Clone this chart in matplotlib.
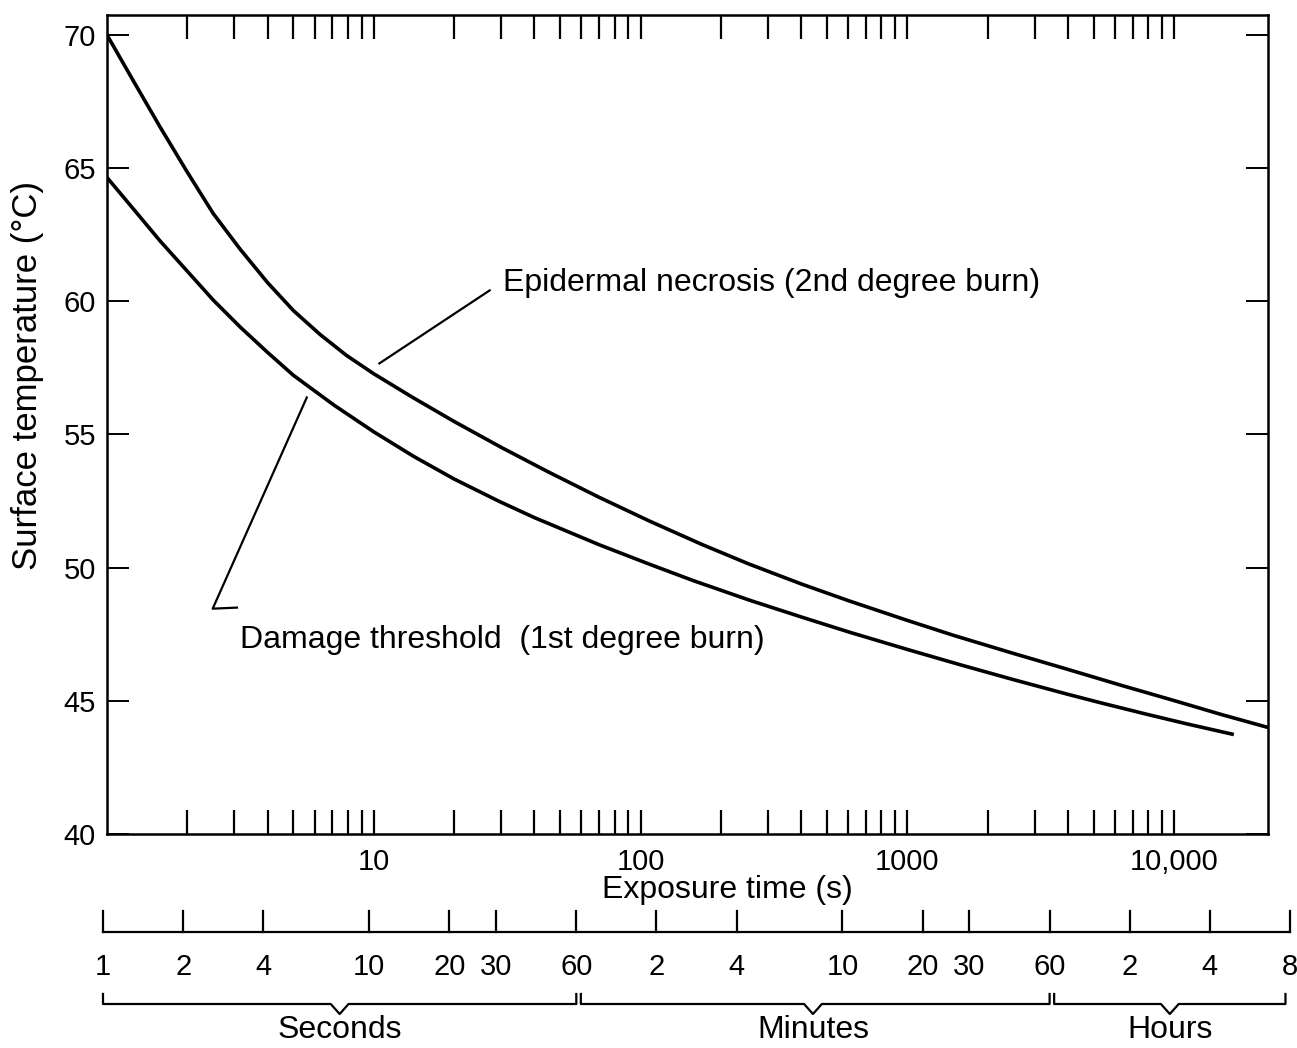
import matplotlib.pyplot as plt

plt.rcParams['font.family'] = ['Liberation Sans', 'DejaVu Sans']

# exposure time (s) vs surface temperature (deg C)
necrosis_t = [1.0, 1.26, 1.58, 2.0, 2.5, 3.16, 4.0, 5.0, 6.3, 7.9, 10, 14, 20, 30, 45, 70, 108,
              170, 256, 400, 606, 1000, 1500, 2500, 4000, 6300, 10000, 15000, 22500]
necrosis_T = [70.0, 68.25, 66.55, 64.85, 63.3, 61.95, 60.7, 59.65, 58.75, 57.97, 57.28, 56.39, 55.49,
              54.52, 53.6, 52.64, 51.75, 50.87, 50.13, 49.39, 48.75, 48.02, 47.45, 46.78, 46.18,
              45.59, 45.01, 44.49, 44.0]
threshold_t = [1.0, 1.26, 1.58, 2.0, 2.5, 3.16, 4.0, 5.0, 7.1, 10, 14.1, 20, 29.5, 40, 70, 108,
               158, 256, 400, 606, 1000, 1585, 2512, 3981, 5240, 7943, 11220, 16500]
threshold_T = [64.65, 63.45, 62.27, 61.13, 60.05, 59.03, 58.08, 57.22, 56.1, 55.1, 54.18, 53.33,
               52.49, 51.88, 50.86, 50.13, 49.51, 48.78, 48.15, 47.58, 46.93, 46.35, 45.79, 45.25,
               44.94, 44.49, 44.13, 43.75]

major_t = [10, 100, 1000, 10000]
major_labels = ['10', '100', '1000', '10,000']
minor_t = [m * 10 ** d for d in range(4) for m in range(2, 10)]
y_ticks = [40, 45, 50, 55, 60, 65, 70]

# second scale under the plot: seconds / minutes / hours
scale_t = [1, 2, 4, 10, 20, 30, 60, 120, 240, 600, 1200, 1800, 3600, 7200, 14400, 28800]
scale_labels = ['1', '2', '4', '10', '20', '30', '60', '2', '4', '10', '20', '30', '60', '2', '4', '8']
span_start = [1, 60, 3600]
span_end = [60, 3600, 28800]
span_names = ['Seconds', 'Minutes', 'Hours']

W, H = 1297, 1048
fs_tick = 21
fs = 23
fig = plt.figure(figsize=(W / 100, H / 100), dpi=100)

ax = fig.add_axes([107 / W, 1 - 834 / H, (1268 - 107) / W, (834 - 15) / H])
ax.set_xscale('log')
ax.set_xlim(1, 22500)
ax.set_ylim(40, 70.75)

ax.plot(necrosis_t, necrosis_T, color='black', lw=2.6)
ax.plot(threshold_t, threshold_T, color='black', lw=2.6)

# leader lines + labels
ax.plot([27.2, 10.5], [60.41, 57.67], color='black', lw=1.6)
ax.plot([5.61, 2.49, 3.07], [56.39, 48.46, 48.5], color='black', lw=1.6)
ax.text(30.4, 60.7, 'Epidermal necrosis (2nd degree burn)', ha='left', va='center', fontsize=fs)
ax.text(3.15, 47.3, 'Damage threshold  (1st degree burn)', ha='left', va='center', fontsize=fs)

ax.set_xticks(major_t, major_labels)
ax.set_xticks(minor_t, minor=True)
ax.tick_params(axis='x', which='both', direction='in', top=True, length=17,
               width=1.6, labelsize=fs_tick, pad=10)
ax.set_yticks(y_ticks)
ax.tick_params(axis='y', direction='in', right=True, length=16, width=1.4,
               labelsize=fs_tick, pad=8)
for s in ax.spines.values():
    s.set_linewidth(1.8)

fig.text(727 / W, 1 - 890 / H, 'Exposure time (s)', ha='center', va='center', fontsize=fs)
fig.text(28 / W, 1 - 375 / H, 'Surface temperature (\u00b0C)', ha='center', va='center',
         rotation=90, fontsize=25)

# lower time scale, y in pixel rows
ax2 = fig.add_axes([103 / W, 1 - 1045 / H, (1290 - 103) / W, (1045 - 900) / H])
ax2.set_xscale('log')
ax2.set_xlim(1, 28800)
ax2.set_ylim(1045, 900)
ax2.axis('off')

ax2.plot([scale_t[0], scale_t[-1]], [932, 932], color='black', lw=1.6, clip_on=False)
for t, lab in zip(scale_t, scale_labels):
    ax2.plot([t, t], [911, 932], color='black', lw=1.6, clip_on=False)
    ax2.text(t, 967, lab, ha='center', va='center', fontsize=fs_tick)

gap = 1.04
notch = 1.08
for a, b, name in zip(span_start, span_end, span_names):
    a2 = a * gap if a > 1 else a
    b2 = b if b < scale_t[-1] else b / gap
    mid = (a * b) ** 0.5
    ax2.plot([a2, a2, mid / notch, mid, mid * notch, b2, b2],
             [994, 1004, 1004, 1014, 1004, 1004, 994],
             color='black', lw=1.6, clip_on=False)
    ax2.text(mid, 1030, name, ha='center', va='center', fontsize=fs)

fig.savefig('out.png', dpi=100)
